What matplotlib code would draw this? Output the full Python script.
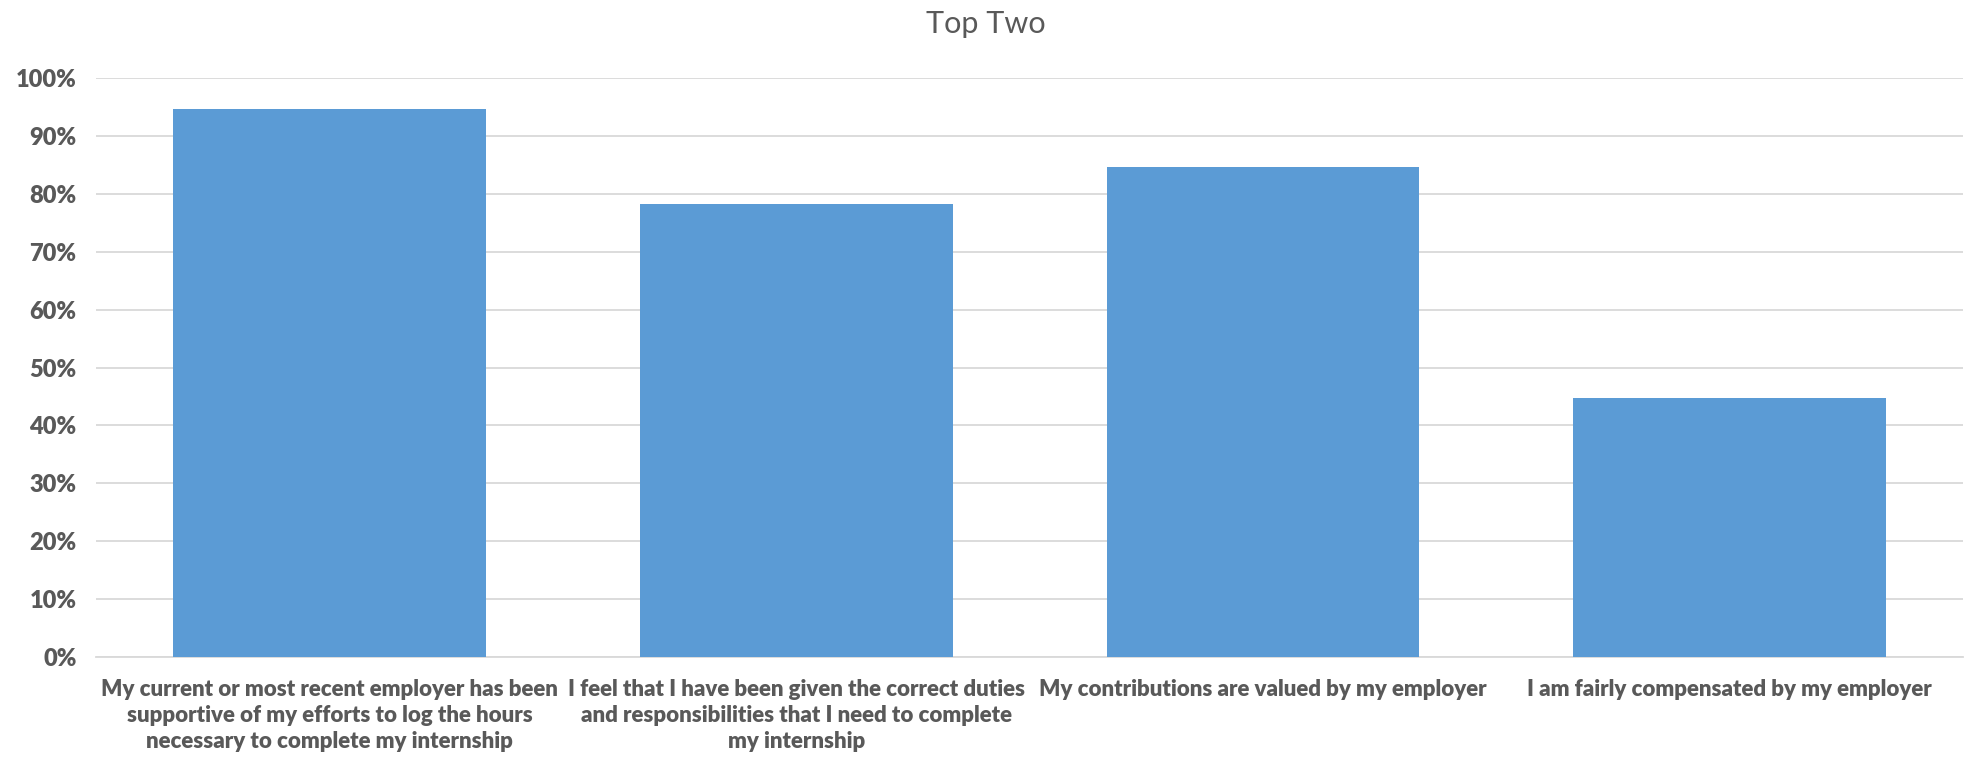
import matplotlib
matplotlib.use("Agg")
import matplotlib.pyplot as plt
from matplotlib.ticker import PercentFormatter

categories = [
    "My current or most recent employer has been\nsupportive of my efforts to log the hours\nnecessary to complete my internship",
    "I feel that I have been given the correct duties\nand responsibilities that I need to complete\nmy internship",
    "My contributions are valued by my employer",
    "I am fairly compensated by my employer",
]
values = [94.6, 78.2, 84.6, 44.7]
yticks = [0, 10, 20, 30, 40, 50, 60, 70, 80, 90, 100]
title = "Top Two"

plt.rcParams['font.family'] = ['Lato', 'DejaVu Sans']
grey = "#595959"

fig = plt.figure(figsize=(19.71, 7.59), dpi=100)
ax = fig.add_axes([0.0487, 0.1344, 0.9473, 0.7627])

x = range(len(categories))
ax.bar(x, values, width=0.67, color="#5B9BD5", zorder=3)
ax.set_xlim(-0.5, len(categories) - 0.5)
ax.set_ylim(0, 100)
ax.set_yticks(yticks)
ax.yaxis.set_major_formatter(PercentFormatter(decimals=0))
ax.grid(axis='y', color="#D9D9D9", linewidth=1.3, zorder=0)
ax.set_xticks(list(x))
ax.set_xticklabels(categories, fontsize=16, fontweight='heavy', color=grey, linespacing=1.28)
for lab in ax.get_yticklabels():
    lab.set_fontsize(17)
    lab.set_fontweight('heavy')
    lab.set_color(grey)
ax.tick_params(axis='both', length=0)
ax.tick_params(axis='x', pad=16)
ax.tick_params(axis='y', pad=14)
for s in ['top', 'right', 'left']:
    ax.spines[s].set_visible(False)
ax.spines['bottom'].set_color("#D9D9D9")
ax.spines['bottom'].set_linewidth(1.3)

fig.text(0.5, 0.968, title, ha='center', va='center', fontsize=22, color=grey)

fig.savefig("out.png", dpi=100)
